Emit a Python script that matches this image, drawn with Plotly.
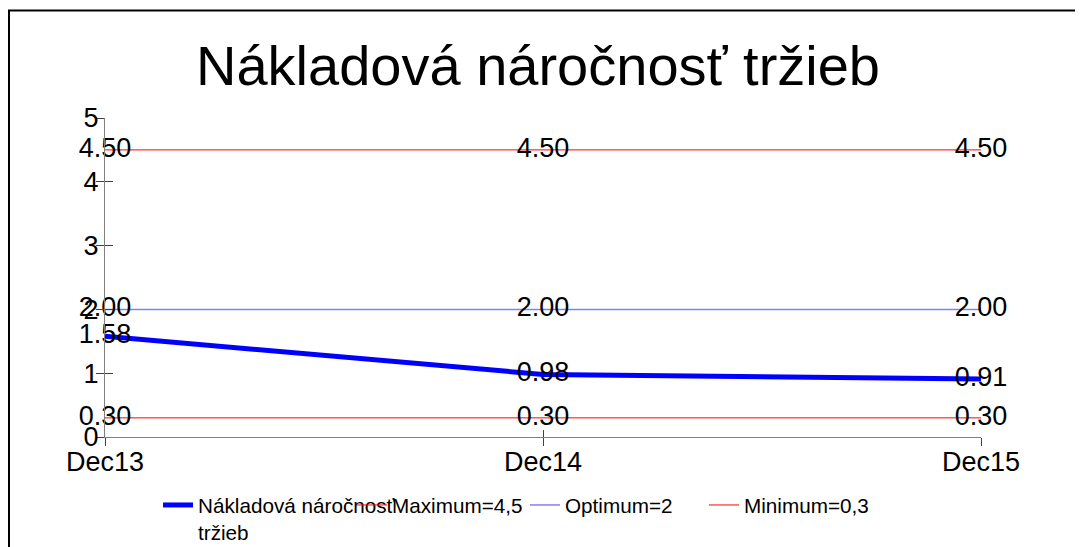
import plotly.graph_objects as go

categories = ["Dec13", "Dec14", "Dec15"]
main_values = [1.58, 0.98, 0.91]
maximum_values = [4.5, 4.5, 4.5]
optimum_values = [2.0, 2.0, 2.0]
minimum_values = [0.3, 0.3, 0.3]
y_ticks = [0, 1, 2, 3, 4, 5]

FONT = "Liberation Sans, Arial, sans-serif"
# page body has an 8px margin; figure is sized to fit the window
OFF = 8
W, H = 1083 - OFF, 547 - OFF
ML, MR, MT, MB = 97, 102, 110, 110
PW, PH = W - ML - MR, H - MT - MB


def px_x(p):
    """figure pixel x -> paper x"""
    return (p - ML) / PW


def px_y(p):
    """figure pixel y -> paper y"""
    return (H - MB - p) / PH


def fmt(v):
    return [f"{x:.2f}" for x in v]


fig = go.Figure()

series = [
    ("Nákladová náročnosť<br>tržieb", main_values, "#0000FF", 5, "legend"),
    ("Maximum=4,5", maximum_values, "#FF0000", 1, "legend2"),
    ("Optimum=2", optimum_values, "#7F7FFF", 1.5, "legend3"),
    ("Minimum=0,3", minimum_values, "#FF0000", 1, "legend4"),
]
for name, vals, color, width, leg in series:
    fig.add_trace(go.Scatter(
        x=categories, y=vals, name=name, mode="lines+text",
        text=fmt(vals), textposition="middle center",
        textfont=dict(family=FONT, size=27, color="#000000"),
        line=dict(color=color, width=width),
        cliponaxis=False, legend=leg, hoverinfo="skip",
    ))

# dummy trace for the inner half of crossing ticks
fig.add_trace(go.Scatter(x=categories, y=[None, None, None], xaxis="x2", yaxis="y2",
                         showlegend=False, hoverinfo="skip", mode="lines"))

leg_common = dict(orientation="h", yanchor="top", y=px_y(477), xanchor="left",
                  bgcolor="rgba(0,0,0,0)", font=dict(family=FONT, size=20.7, color="#000000"),
                  itemwidth=30, tracegroupgap=0)
legend_lefts = [150, 344, 517, 696]
legends = {}
for i, lx in enumerate(legend_lefts):
    key = "legend" if i == 0 else f"legend{i+1}"
    legends[key] = dict(leg_common, x=px_x(lx))
legends["legend"]["valign"] = "top"

fig.update_layout(
    width=W, height=H,
    margin=dict(l=ML, r=MR, t=MT, b=MB, autoexpand=False),
    paper_bgcolor="white", plot_bgcolor="white",
    font=dict(family=FONT, color="#000000"),
    title=dict(text="Nákladová náročnosť tržieb", x=530 / W, xanchor="center",
               xref="container", y=1 - 57 / H, yanchor="middle", yref="container",
               font=dict(family=FONT, size=56, color="#000000")),
    xaxis=dict(type="category", categoryarray=categories, range=[0, 2],
               showgrid=False, zeroline=False, showline=True, linecolor="#808080", linewidth=1,
               ticks="outside", ticklen=8, tickcolor="#404040", ticklabelstandoff=-7,
               tickfont=dict(family=FONT, size=27, color="#000000")),
    yaxis=dict(range=[0, 5], tickvals=y_ticks, showgrid=False, zeroline=False,
               showline=True, linecolor="#808080", linewidth=1,
               ticks="outside", ticklen=8, tickcolor="#404040", ticklabelstandoff=-8,
               tickfont=dict(family=FONT, size=27, color="#000000")),
    xaxis2=dict(type="category", categoryarray=categories, range=[0, 2], overlaying="x",
                showgrid=False, zeroline=False, showline=False, showticklabels=False,
                ticks="inside", ticklen=7, tickcolor="#404040", anchor="y2"),
    yaxis2=dict(range=[0, 5], tickvals=y_ticks, overlaying="y", showgrid=False, zeroline=False,
                showline=False, showticklabels=False, ticks="inside", ticklen=8,
                tickcolor="#404040", anchor="x2"),
    showlegend=True,
    **legends,
)

# outer frame (left and top edges visible, rest off-canvas)
fig.add_shape(type="rect", xref="paper", yref="paper",
              x0=px_x(1), x1=px_x(W + 20), y0=px_y(H + 20), y1=px_y(2.5),
              line=dict(color="#000000", width=2), fillcolor="rgba(0,0,0,0)", layer="above")

fig.write_html("out.html")
